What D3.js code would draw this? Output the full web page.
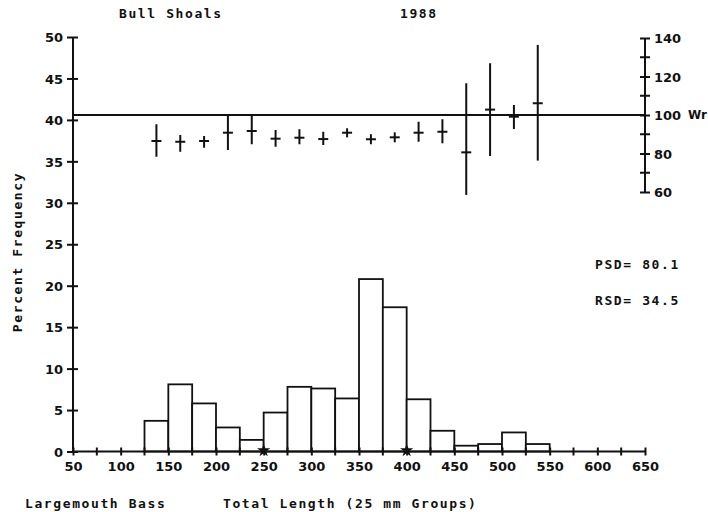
<!DOCTYPE html>
<html><head><meta charset="utf-8">
<script src="https://cdn.jsdelivr.net/npm/d3@7"></script>
<style>
body{margin:0;background:#fff;}
.lbl{font-family:"DejaVu Sans Mono",monospace;font-weight:bold;font-size:13px;letter-spacing:1.6px;fill:#111;}
.tk{font-family:"DejaVu Sans",sans-serif;font-weight:bold;font-size:13px;fill:#111;}
</style></head>
<body><svg id="c" width="708" height="512"></svg>
<script>
// ---- data ----
const binStart = [125,150,175,200,225,250,275,300,325,350,375,400,425,450,475,500,525];
const percent  = [3.7,8.1,5.8,2.9,1.4,4.7,7.8,7.6,6.4,20.8,17.4,6.3,2.5,0.7,0.9,2.3,0.9];
const wrLength = [137.5,162.5,187.5,212.5,237.5,262.5,287.5,312.5,337.5,362.5,387.5,412.5,437.5,462.5,487.5,512.5,537.5];
const wrMean   = [86.5,86.1,86.5,90.8,91.7,87.7,88.2,87.5,90.8,87.4,88.4,90.8,91.3,80.6,102.8,99.1,106.1];
const wrLow    = [78.3,80.9,83.0,81.8,84.8,83.5,84.8,84.4,88.4,84.8,85.8,86.1,85.3,58.5,78.7,92.7,76.3];
const wrHigh   = [95.2,89.6,89.1,99.5,99.5,92.2,92.6,91.3,93.1,90.0,91.0,96.5,97.8,116.5,126.9,105.2,136.4];
const xTicks   = [50,100,150,200,250,300,350,400,450,500,550,600,650];
const xMinor   = [75,125,175,225,275,325,375,425,475,525,575,625];
const yTicks   = [0,5,10,15,20,25,30,35,40,45,50];
const wrTicks  = [60,80,100,120,140];
const wrMinor  = [70,90,110,130];
const starMarks = [250,400];
const binWidth = 25;

const svg = d3.select("#c");
const x = d3.scaleLinear().domain([50,650]).range([73,645]);
const y = d3.scaleLinear().domain([0,50]).range([451.5,37]);
const yw = d3.scaleLinear().domain([60,140]).range([192,38]);

// histogram bars
svg.append("g").selectAll("rect").data(binStart).join("rect")
  .attr("x",(d)=>x(d)).attr("width",(d)=>x(d+binWidth)-x(d))
  .attr("y",(d,i)=>y(percent[i])).attr("height",(d,i)=>y(0)-y(percent[i]))
  .attr("fill","#fff").attr("stroke","#111").attr("stroke-width",1.8);

// left axis
const gL = svg.append("g").attr("transform",`translate(${x(50)},0)`)
  .call(d3.axisLeft(y).tickValues(yTicks).tickSize(6).tickPadding(10));
gL.select(".domain").attr("stroke","#111").attr("stroke-width",2).attr("d",`M0,${y(0)}V${y(50)}`);
gL.selectAll(".tick line").attr("x1",-6).attr("x2",5).attr("stroke","#111").attr("stroke-width",2);
gL.selectAll(".tick text").attr("class","tk").attr("x",-10).attr("dy","0.36em");

// bottom axis
const gB = svg.append("g").attr("transform",`translate(0,${y(0)})`)
  .call(d3.axisBottom(x).tickValues(xTicks).tickSize(4).tickPadding(8));
gB.select(".domain").attr("stroke","#111").attr("stroke-width",2).attr("d",`M${x(50)},0H${x(650)}`);
gB.selectAll(".tick line").attr("y1",-4).attr("y2",4).attr("stroke","#111").attr("stroke-width",2);
gB.selectAll(".tick text").attr("class","tk").attr("y",10).attr("dy","0.71em");
gB.append("g").selectAll("line").data(xMinor).join("line")
  .attr("x1",(d)=>x(d)).attr("x2",(d)=>x(d)).attr("y1",-4).attr("y2",4)
  .attr("stroke","#111").attr("stroke-width",2);
gB.append("g").selectAll("path").data(starMarks).join("path")
  .attr("transform",(d)=>`translate(${x(d)},-1)`)
  .attr("d",d3.symbol(d3.symbolStar,55)).attr("fill","#111");

// right Wr axis
const gR = svg.append("g").attr("transform",`translate(${x(650)},0)`)
  .call(d3.axisRight(yw).tickValues(wrTicks).tickSize(5).tickPadding(8));
gR.select(".domain").attr("stroke","#111").attr("stroke-width",2).attr("d",`M0,${yw(60)}V${yw(140)}`);
gR.selectAll(".tick line").attr("x1",-5).attr("x2",5).attr("stroke","#111").attr("stroke-width",2);
gR.selectAll(".tick text").attr("class","tk").attr("x",9).attr("dy","0.36em");
gR.append("g").selectAll("line").data(wrMinor).join("line")
  .attr("x1",-5).attr("x2",5).attr("y1",(d)=>yw(d)).attr("y2",(d)=>yw(d))
  .attr("stroke","#111").attr("stroke-width",2);

// Wr = 100 reference line
svg.append("line").attr("x1",x(50)).attr("x2",x(650)).attr("y1",yw(100)).attr("y2",yw(100))
  .attr("stroke","#111").attr("stroke-width",2);

// Wr points with ranges
const gW = svg.append("g").attr("stroke","#111").attr("stroke-width",2);
gW.selectAll("line.v").data(wrLength).join("line").attr("class","v")
  .attr("x1",(d)=>x(d)).attr("x2",(d)=>x(d))
  .attr("y1",(d,i)=>yw(wrHigh[i])).attr("y2",(d,i)=>yw(wrLow[i]));
gW.selectAll("line.h").data(wrLength).join("line").attr("class","h")
  .attr("x1",(d)=>x(d)-5).attr("x2",(d)=>x(d)+5)
  .attr("y1",(d,i)=>yw(wrMean[i])).attr("y2",(d,i)=>yw(wrMean[i]));

// texts
svg.append("text").attr("class","lbl").attr("x",119).attr("y",18).text("Bull Shoals");
svg.append("text").attr("class","lbl").attr("x",400).attr("y",18).text("1988");
svg.append("text").attr("class","tk").attr("x",688).attr("y",yw(100)).attr("dy","0.36em")
  .style("font-size","12px").text("Wr");
svg.append("text").attr("class","lbl").attr("x",595).attr("y",269).text("PSD= 80.1");
svg.append("text").attr("class","lbl").attr("x",595).attr("y",305).text("RSD= 34.5");
svg.append("text").attr("class","lbl").attr("x",25).attr("y",508).text("Largemouth Bass");
svg.append("text").attr("class","lbl").attr("x",223).attr("y",508).text("Total Length (25 mm Groups)");
svg.append("text").attr("class","lbl").attr("transform","translate(22,252) rotate(-90)")
  .attr("text-anchor","middle").text("Percent Frequency");
</script></body></html>
